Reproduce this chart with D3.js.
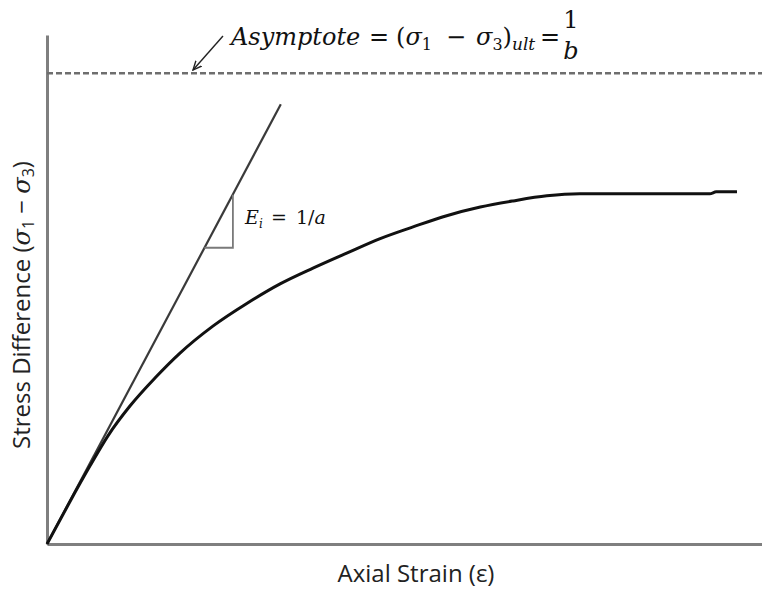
<!DOCTYPE html>
<html>
<head>
<meta charset="utf-8">
<script src="https://cdn.jsdelivr.net/npm/d3@7"></script>
<style>
  body { margin: 0; background: #fff; }
  svg { display: block; }
</style>
</head>
<body>
<svg></svg>
<script>
let width = 762, height = 590;

// strain / stress values (arbitrary units, axes run 0..10)
let strain = [0, 0.32, 0.60, 0.85, 1.16, 1.51, 1.86, 2.32, 2.80, 3.26, 3.72, 4.20, 4.66, 5.12, 5.59, 6.06, 6.52, 6.99, 7.45, 9.27, 9.36, 9.65];
let stress = [0, 0.83, 1.53, 2.12, 2.71, 3.26, 3.75, 4.28, 4.73, 5.11, 5.42, 5.72, 6.00, 6.23, 6.45, 6.62, 6.74, 6.84, 6.88, 6.88, 6.92, 6.92];

// initial tangent (E_i = 1/a) and asymptote (1/b)
let tangentStrain = [0, 3.27];
let tangentStress = [0, 8.64];
let triStrain = [2.20, 2.60, 2.60];
let triStress = [5.82, 5.82, 6.86];
let asymptote = 9.25;

let svg = d3.select("svg")
    .attr("width", width)
    .attr("height", height);

let x = d3.scaleLinear().domain([0, 10]).range([47, 762]);
let y = d3.scaleLinear().domain([0, 10]).range([544, 35]);

let line = d3.line()
    .x(d => x(d[0]))
    .y(d => y(d[1]));

// axes, no ticks
svg.append("g")
    .attr("transform", "translate(0,544)")
    .call(d3.axisBottom(x).tickValues([]).tickSizeOuter(0))
    .select(".domain").attr("stroke", "#7f7f7f").attr("stroke-width", 3);

svg.append("g")
    .attr("transform", "translate(47,0)")
    .call(d3.axisLeft(y).tickValues([]).tickSizeOuter(0))
    .select(".domain").attr("stroke", "#7f7f7f").attr("stroke-width", 3);

// asymptote
svg.append("line")
    .attr("x1", x(0)).attr("x2", x(10))
    .attr("y1", y(asymptote)).attr("y2", y(asymptote))
    .attr("stroke", "#6e6e6e")
    .attr("stroke-width", 2.5)
    .attr("stroke-dasharray", "6,3");

// tangent line
svg.append("path")
    .attr("d", line(tangentStrain.map((s, i) => [s, tangentStress[i]])))
    .attr("fill", "none")
    .attr("stroke", "#3a3a3a")
    .attr("stroke-width", 2.2);

// slope triangle
svg.append("path")
    .attr("d", line(triStrain.map((s, i) => [s, triStress[i]])))
    .attr("fill", "none")
    .attr("stroke", "#7a7a7a")
    .attr("stroke-width", 1.8);

// stress-strain curve
svg.append("path")
    .attr("d", line.curve(d3.curveMonotoneX)(strain.map((s, i) => [s, stress[i]])))
    .attr("fill", "none")
    .attr("stroke", "#111")
    .attr("stroke-width", 3);

// arrow pointing at asymptote
svg.append("defs").append("marker")
    .attr("id", "arr")
    .attr("viewBox", "0 0 10 10")
    .attr("refX", 9).attr("refY", 5)
    .attr("markerWidth", 7).attr("markerHeight", 7)
    .attr("orient", "auto")
    .append("path")
    .attr("d", "M0,1 L9,5 L0,9")
    .attr("fill", "none")
    .attr("stroke", "#222")
    .attr("stroke-width", 1.4);

svg.append("line")
    .attr("x1", 223).attr("y1", 36)
    .attr("x2", 193).attr("y2", 70)
    .attr("stroke", "#222")
    .attr("stroke-width", 1.4)
    .attr("marker-end", "url(#arr)");

let mathFont = "'DejaVu Serif', serif";

let asy = svg.append("text")
    .attr("y", 45)
    .attr("font-family", mathFont)
    .attr("font-size", 24)
    .attr("fill", "#111");
asy.append("tspan").attr("x", 231).attr("font-style", "italic").text("Asymptote");
asy.append("tspan").attr("x", 369).text("=");
asy.append("tspan").attr("x", 396).text("(");
asy.append("tspan").attr("font-style", "italic").text("σ");
asy.append("tspan").attr("dy", 5).attr("font-size", 16).text("1");
asy.append("tspan").attr("x", 446).attr("dy", -5).text("−");
asy.append("tspan").attr("x", 476).attr("font-style", "italic").text("σ");
asy.append("tspan").attr("dy", 5).attr("font-size", 16).text("3");
asy.append("tspan").attr("dy", -5).text(")");
asy.append("tspan").attr("dy", 5).attr("font-size", 17).attr("font-style", "italic").text("ult");
asy.append("tspan").attr("x", 540).attr("dy", -5).text("=");

// fraction 1/b
svg.append("text")
    .attr("x", 571).attr("y", 28)
    .attr("text-anchor", "middle")
    .attr("font-family", mathFont)
    .attr("font-size", 24)
    .attr("fill", "#111")
    .text("1");
svg.append("text")
    .attr("x", 571).attr("y", 59)
    .attr("text-anchor", "middle")
    .attr("font-family", mathFont)
    .attr("font-size", 24)
    .attr("font-style", "italic")
    .attr("fill", "#111")
    .text("b");

// E_i label
let ei = svg.append("text")
    .attr("y", 224)
    .attr("font-family", mathFont)
    .attr("font-size", 19)
    .attr("fill", "#111");
ei.append("tspan").attr("x", 245).attr("font-style", "italic").text("E");
ei.append("tspan").attr("dy", 4).attr("font-size", 12).attr("font-style", "italic").text("i");
ei.append("tspan").attr("x", 271).attr("dy", -4).text("=");
ei.append("tspan").attr("x", 296).text("1/");
ei.append("tspan").attr("font-style", "italic").text("a");

// axis titles
let labFont = "'Open Sans', sans-serif";
svg.append("text")
    .attr("x", 416).attr("y", 582)
    .attr("text-anchor", "middle")
    .attr("font-family", labFont)
    .attr("font-size", 24)
    .attr("fill", "#222")
    .text("Axial Strain (ε)");

let yl = svg.append("text")
    .attr("transform", "translate(30,305) rotate(-90)")
    .attr("text-anchor", "middle")
    .attr("font-family", labFont)
    .attr("font-size", 24)
    .attr("fill", "#222");
yl.append("tspan").text("Stress Difference (");
yl.append("tspan").attr("font-style", "italic").attr("font-family", mathFont).text("σ");
yl.append("tspan").attr("dy", 4).attr("font-size", 16).text("1");
yl.append("tspan").attr("dy", -4).text(" − ");
yl.append("tspan").attr("font-style", "italic").attr("font-family", mathFont).text("σ");
yl.append("tspan").attr("dy", 4).attr("font-size", 16).text("3");
yl.append("tspan").attr("dy", -4).text(")");
</script>
</body>
</html>
